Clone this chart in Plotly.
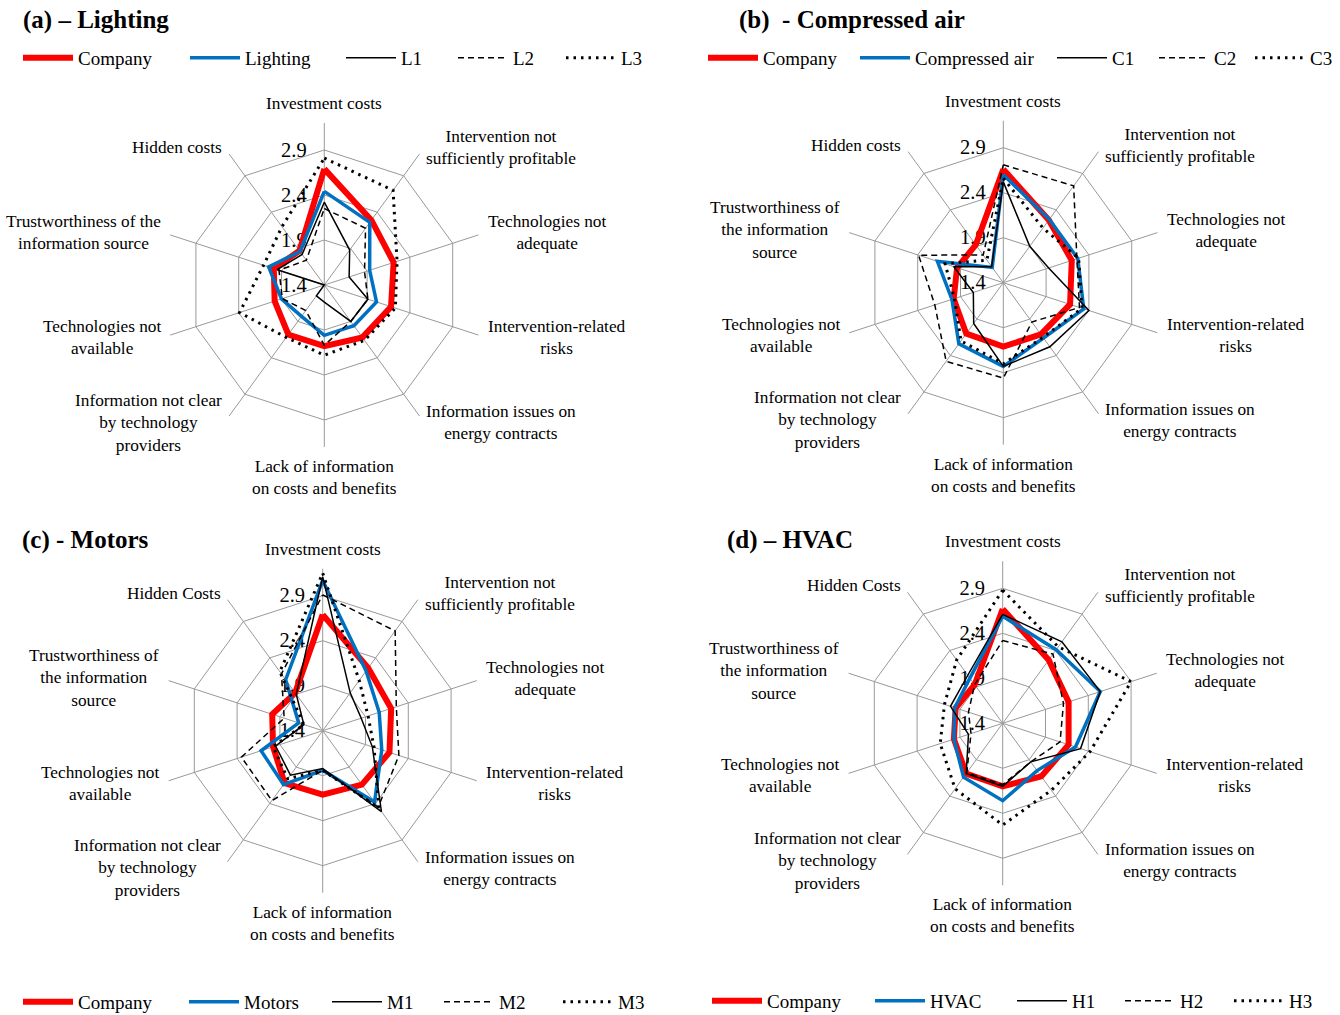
import math
import plotly.graph_objects as go

W, H = 1340, 1015
R = 162  # px radius of the polar area (value 3.2)
FONT = "Liberation Serif"

# ---------------- data ----------------
cats_a = ["Investment costs", "Intervention not<br>sufficiently profitable", "Technologies not<br>adequate",
          "Intervention-related<br>risks", "Information issues on<br>energy contracts",
          "Lack of information<br>on costs and benefits", "Information not clear<br>by technology<br>providers",
          "Technologies not<br>available", "Trustworthiness of the<br>information source", "Hidden costs"]
cats_b = ["Investment costs", "Intervention not<br>sufficiently profitable", "Technologies not<br>adequate",
          "Intervention-related<br>risks", "Information issues on<br>energy contracts",
          "Lack of information<br>on costs and benefits", "Information not clear<br>by technology<br>providers",
          "Technologies not<br>available", "Trustworthiness of<br>the information<br>source", "Hidden costs"]
cats_cd = ["Investment costs", "Intervention not<br>sufficiently profitable", "Technologies not<br>adequate",
           "Intervention-related<br>risks", "Information issues on<br>energy contracts",
           "Lack of information<br>on costs and benefits", "Information not clear<br>by technology<br>providers",
           "Technologies not<br>available", "Trustworthiness of<br>the information<br>source", "Hidden Costs"]

radial_ticks = [1.4, 1.9, 2.4, 2.9]
radial_range = [1.4, 3.2]

company_a = [2.69, 2.29, 2.21, 2.18, 2.12, 2.08, 2.08, 1.98, 1.99, 1.87]
lighting = [2.44, 2.26, 1.93, 2.01, 1.96, 1.96, 1.83, 1.90, 2.05, 1.86]
l1 = [2.32, 1.88, 1.69, 1.91, 1.90, 1.59, 1.55, 1.40, 1.95, 1.82]
l2 = [2.25, 2.18, 1.87, 1.91, 1.90, 2.07, 1.75, 1.89, 1.93, 1.74]
l3 = [2.81, 2.70, 2.25, 2.23, 2.16, 2.18, 2.12, 2.39, 2.11, 2.20]

company_b = [2.66, 2.26, 2.20, 2.18, 2.11, 2.11, 2.10, 1.98, 1.94, 1.92]
compressed = [2.60, 2.27, 2.27, 2.34, 2.16, 2.33, 2.24, 2.00, 2.17, 1.61]
c1 = [2.52, 1.90, 1.93, 2.40, 2.28, 2.33, 1.96, 1.75, 1.98, 1.62]
c2 = [2.71, 2.73, 2.26, 2.29, 1.94, 2.46, 2.48, 2.20, 2.39, 1.78]
c3 = [2.56, 2.15, 2.28, 2.32, 2.15, 2.30, 2.20, 1.97, 2.08, 1.71]

company_c = [2.69, 2.26, 2.20, 2.18, 2.14, 2.11, 2.12, 1.98, 1.99, 1.92]
motors = [3.07, 2.22, 2.06, 2.09, 2.38, 1.84, 2.14, 2.12, 1.68, 2.10]
m1 = [3.11, 1.92, 1.85, 1.98, 2.51, 1.82, 2.01, 1.95, 1.62, 1.90]
m2 = [2.91, 2.77, 2.26, 2.29, 2.45, 1.84, 2.36, 2.35, 1.85, 2.18]
m3 = [3.15, 2.09, 1.93, 2.00, 2.46, 1.84, 2.06, 1.98, 1.62, 2.21]

company_d = [2.67, 2.27, 2.17, 2.17, 2.13, 2.10, 2.09, 1.97, 1.95, 1.93]
hvac = [2.59, 2.41, 2.54, 2.25, 2.05, 2.26, 2.14, 1.97, 1.96, 2.02]
h1 = [2.61, 2.52, 2.54, 2.31, 1.93, 2.10, 2.09, 1.80, 2.01, 2.06]
h2 = [2.32, 2.35, 2.11, 2.07, 1.93, 2.08, 2.08, 1.77, 1.80, 1.93]
h3 = [2.88, 2.45, 2.90, 2.42, 2.32, 2.53, 2.30, 2.13, 2.08, 2.27]

# ---------------- layout / styles ----------------
styles = [
    dict(color="#FF0000", width=6, dash="solid"),
    dict(color="#0070C0", width=3.5, dash="solid"),
    dict(color="#000000", width=1.5, dash="solid"),
    dict(color="#000000", width=1.5, dash="6px,4px"),
    dict(color="#000000", width=3, dash="2.5px,5px"),
]

panels = [
    dict(title="(a) \u2013 Lighting", title_xy=(21, 20), cats=cats_a, center=(324.3, 285.0),
         series=[("Company", company_a), ("Lighting", lighting), ("L1", l1), ("L2", l2), ("L3", l3)],
         leg_y=58, leg_tx=[78, 245, 401, 513, 621]),
    dict(title="(b)\u00a0 - Compressed air", title_xy=(737, 20), cats=cats_b, center=(1003.3, 282.7),
         series=[("Company", company_b), ("Compressed air", compressed), ("C1", c1), ("C2", c2), ("C3", c3)],
         leg_y=58, leg_tx=[763, 915, 1112, 1214, 1310]),
    dict(title="(c) - Motors", title_xy=(20, 540), cats=cats_cd, center=(322.7, 730.7),
         series=[("Company", company_c), ("Motors", motors), ("M1", m1), ("M2", m2), ("M3", m3)],
         leg_y=1002, leg_tx=[78, 244, 387, 499, 618]),
    dict(title="(d) \u2013 HVAC", title_xy=(725, 540), cats=cats_cd, center=(1002.7, 723.3),
         series=[("Company", company_d), ("HVAC", hvac), ("H1", h1), ("H2", h2), ("H3", h3)],
         leg_y=1001, leg_tx=[767, 930, 1072, 1180, 1289]),
]

ITEMW = 50
TEXT_OFF = ITEMW + 10  # text offset inside legend entry
LABEL_SIZE = 17.3
LEGEND_SIZE = 19
TITLE_SIZE = 25
TICK_SIZE = 20.5

fig = go.Figure()
layout = dict(width=W, height=H, autosize=False,
              margin=dict(l=0, r=0, t=0, b=0, pad=0, autoexpand=False),
              paper_bgcolor="white", plot_bgcolor="white", showlegend=True,
              font=dict(family=FONT, size=LABEL_SIZE, color="black"))
annotations = []
legend_idx = 0

for pi, p in enumerate(panels):
    pname = "polar" if pi == 0 else f"polar{pi + 1}"
    cx, cy = p["center"]
    layout[pname] = dict(
        domain=dict(x=[(cx - R) / W, (cx + R) / W], y=[1 - (cy + R) / H, 1 - (cy - R) / H]),
        bgcolor="white",
        gridshape="linear",
        radialaxis=dict(range=radial_range, tickvals=radial_ticks, ticktext=[str(v) for v in radial_ticks],
                        angle=90, tickangle=90, side="counterclockwise", showline=False,
                        gridcolor="#999999", gridwidth=1.2, ticks="outside", ticklen=10,
                        tickcolor="rgba(0,0,0,0)", tickfont=dict(family=FONT, size=TICK_SIZE, color="black"),
                        layer="below traces"),
        angularaxis=dict(type="category", rotation=90, direction="clockwise", showline=False,
                         showticklabels=False, ticks="", gridcolor="#999999", gridwidth=1.2,
                         categoryarray=p["cats"], categoryorder="array"),
    )
    for si, (name, vals) in enumerate(p["series"]):
        legend_idx += 1
        lname = "legend" if legend_idx == 1 else f"legend{legend_idx}"
        st = styles[si]
        fig.add_trace(go.Scatterpolar(
            r=list(vals) + [vals[0]], theta=list(p["cats"]) + [p["cats"][0]],
            mode="lines", name=name, subplot=pname, legend=lname, showlegend=True,
            line=dict(color=st["color"], width=st["width"], dash=st["dash"]),
            hoverinfo="skip"))
        layout[lname] = dict(x=(p["leg_tx"][si] - TEXT_OFF) / W, xanchor="left",
                             y=1 - p["leg_y"] / H, yanchor="middle", orientation="h",
                             bgcolor="rgba(0,0,0,0)", borderwidth=0, itemwidth=ITEMW,
                             font=dict(family=FONT, size=LEGEND_SIZE, color="black"))
    # category labels
    for k, lab in enumerate(p["cats"]):
        ang = math.radians(k * 36)
        dx, dy = math.sin(ang), -math.cos(ang)
        px, py = cx + (R + 8) * dx, cy + (R + 8) * dy
        if abs(dx) < 1e-6:
            xa, ya = "center", ("bottom" if dy < 0 else "top")
        else:
            xa, ya = ("left" if dx > 0 else "right"), "middle"
        annotations.append(dict(text=lab, x=px / W, y=1 - py / H, xref="paper", yref="paper",
                                xanchor=xa, yanchor=ya, align="center", showarrow=False,
                                font=dict(family=FONT, size=LABEL_SIZE, color="black")))
    tx, ty = p["title_xy"]
    annotations.append(dict(text=f"<b>{p['title']}</b>", x=tx / W, y=1 - ty / H, xref="paper", yref="paper",
                            xanchor="left", yanchor="middle", showarrow=False,
                            font=dict(family=FONT, size=TITLE_SIZE, color="black")))

layout["annotations"] = annotations
fig.update_layout(**layout)
fig.write_html("out.html", config={"displayModeBar": False},
               post_script="document.body.style.margin='0';document.body.style.padding='0';")
